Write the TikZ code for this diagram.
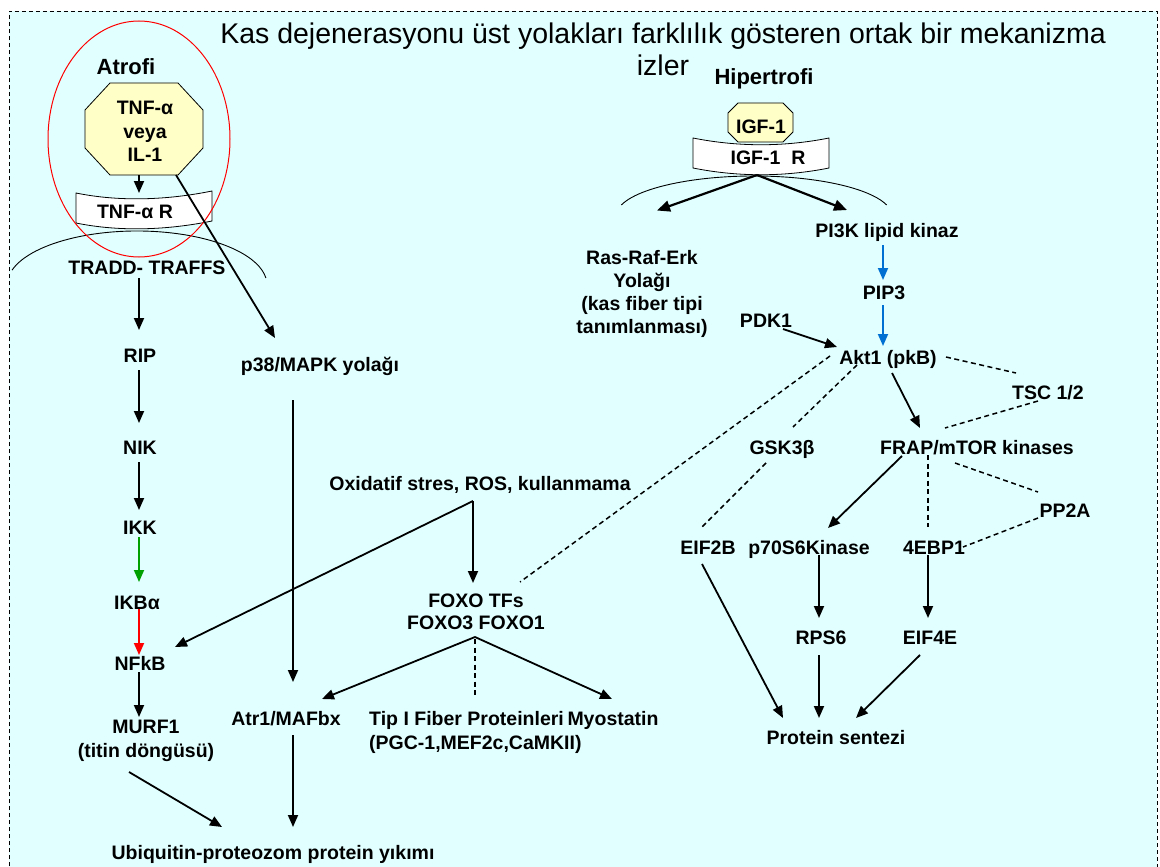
\documentclass[tikz,border=0pt]{standalone}
\usepackage{fontspec}
\setmainfont{Liberation Sans}
\usetikzlibrary{arrows.meta,calc}
\definecolor{bgcyan}{RGB}{226,255,255}
\definecolor{octyellow}{RGB}{255,255,200}
\definecolor{arrblue}{RGB}{0,112,210}
\definecolor{arrgreen}{RGB}{0,160,0}
\definecolor{arrred}{RGB}{255,0,0}
\begin{document}
\begin{tikzpicture}[x=1pt,y=-1pt,
  lbl/.style={font=\bfseries\fontsize{19.5}{23.5}\selectfont, inner sep=0pt, align=center},
  one/.style={text height=14pt, text depth=0pt},
  head/.style={font=\bfseries\fontsize{22}{26}\selectfont, inner sep=0pt, text height=15.5pt, text depth=0pt},
  ttl/.style={font=\fontsize{28.5}{32}\selectfont, inner sep=0pt, align=center},
  arr/.style={line width=1.8pt, -{Triangle[length=12pt,width=10pt]}},
  bigarr/.style={line width=2.2pt, -{Triangle[length=13pt,width=11pt]}},
  dline/.style={line width=1.5pt, dash pattern=on 5pt off 3.5pt},
  memb/.style={line width=0.9pt},
  recbox/.style={fill=white, draw=black, line width=0.8pt},
  octshape/.style={fill=octyellow, draw=black, line width=0.8pt}
]
\useasboundingbox (0,0) rectangle (1160,867);
% background and frame
\fill[bgcyan] (9,11) rectangle (1157,880);
\draw[line width=0.8pt, dash pattern=on 4pt off 3pt] (9,880) -- (9,11) -- (1157,11) -- (1157,880);

% membranes
\draw[memb] (137,285) ++(196:130 and 54) arc[start angle=196, end angle=352.5, x radius=130, y radius=54];
\draw[memb] (754,216) ++(196:138 and 40) arc[start angle=196, end angle=344, x radius=138, y radius=40];

% receptors
\draw[recbox] (76,193) .. controls (120,202) and (168,200) .. (212,191) -- (212,221) .. controls (168,230) and (120,232) .. (76,223) -- cycle;
\draw[recbox] (693,138) .. controls (738,147) and (784,147) .. (829,138) -- (829,168) .. controls (784,177) and (738,177) .. (693,168) -- cycle;

% ligands (octagons)
\draw[octshape] (110,83) -- (178,83) -- (203,110) -- (203,148) -- (178,175) -- (110,175) -- (85,148) -- (85,110) -- cycle;
\draw[octshape] (738,103) -- (783,103) -- (793,113) -- (793,132) -- (783,142) -- (738,142) -- (728,132) -- (728,113) -- cycle;

% red ellipse
\draw[red, line width=1pt] (139,139) ellipse [x radius=91, y radius=118];

% title
\node[ttl] (title) at (663,49) {Kas dejenerasyonu üst yolakları farklılık gösteren ortak bir mekanizma\\izler};

% nodes - left
\node[head] (atrofi) at (126,67) {Atrofi};
\node[lbl] (tnf) at (145,131.5) {TNF-α\\veya\\IL-1};
\node[lbl,one] (tnfr) at (135,211) {TNF-α R};
\node[lbl,one] (tradd) at (147,267) {TRADD- TRAFFS};
\node[lbl,one] (rip) at (140,355) {RIP};
\node[lbl,one] (nik) at (140,447) {NIK};
\node[lbl,one] (ikk) at (140,527) {IKK};
\node[lbl,one] (ikba) at (137,602) {IKBα};
\node[lbl,one] (nfkb) at (140,663) {NFkB};
\node[lbl,font=\bfseries\fontsize{19.5}{24}\selectfont] (murf) at (146,741) {MURF1\\(titin döngüsü)};
\node[lbl,one] (p38) at (320,364) {p38/MAPK yolağı};
\node[lbl,one] (atr) at (286,718) {Atr1/MAFbx};
\node[lbl,one] (ubi) at (273,852) {Ubiquitin-proteozom protein yıkımı};
\node[lbl,one] (oxi) at (480,483) {Oxidatif stres, ROS, kullanmama};
\node[lbl,font=\bfseries\fontsize{19.5}{22}\selectfont] (foxo) at (476,612) {FOXO TFs\\FOXO3 FOXO1};
\node[lbl,align=left,anchor=west,font=\bfseries\fontsize{19.5}{24}\selectfont] (tip) at (369,732) {Tip I Fiber Proteinleri\\(PGC-1,MEF2c,CaMKII)};
\node[lbl,one] (myo) at (613,718) {Myostatin};

% nodes - right
\node[head] (hiper) at (764,77) {Hipertrofi};
\node[lbl,one] (igf) at (761,126) {IGF-1};
\node[lbl,one] (igfr) at (768,157) {IGF-1~~R};
\node[lbl,font=\bfseries\fontsize{19.5}{23}\selectfont] (ras) at (642,293.5) {Ras-Raf-Erk\\Yolağı\\(kas fiber tipi\\tanımlanması)};
\node[lbl,one] (pi3k) at (887,230) {PI3K lipid kinaz};
\node[lbl,one] (pip3) at (884,292) {PIP3};
\node[lbl,one] (pdk1) at (766,320) {PDK1};
\node[lbl,one] (akt) at (888,357) {Akt1 (pkB)};
\node[lbl,one] (tsc) at (1048,392) {TSC 1/2};
\node[lbl,one] (frap) at (977,447) {FRAP/mTOR kinases};
\node[lbl,one] (gsk) at (782,447) {GSK3β};
\node[lbl,one] (eif2b) at (708,547) {EIF2B};
\node[lbl,one] (p70) at (809,547) {p70S6Kinase};
\node[lbl,one] (ebp) at (934,547) {4EBP1};
\node[lbl,one] (pp2a) at (1065,510) {PP2A};
\node[lbl,one] (rps6) at (821,637) {RPS6};
\node[lbl,one] (eif4e) at (930,637) {EIF4E};
\node[lbl,one] (prot) at (836,737) {Protein sentezi};

% connectors - left
\draw[arr] ($(tnf)+(-6,43.5)$) -- ($(tnfr)+(4,-18)$);
\draw[arr] ($(tradd)+(-8,11)$) -- ($(rip)+(-1,-25)$);
\draw[arr] ($(rip)+(-1,15)$) -- ($(nik)+(-1,-24)$);
\draw[arr] ($(nik)+(-1,15)$) -- ($(ikk)+(-1,-17)$);
\draw[arr, arrgreen] ($(ikk)+(-1,10)$) -- ($(ikba)+(2,-20)$);
\draw[arr, arrred] ($(ikba)+(2,7)$) -- ($(nfkb)+(-1,-8)$);
\draw[arr] ($(nfkb)+(-1,9)$) -- ($(murf)+(-7,-24)$);
\draw[arr] ($(murf)+(-17,31)$) -- ($(ubi)+(-51,-25)$);
\draw[arr] ($(p38)+(-27,36)$) -- ($(atr)+(7,-36)$);
\draw[arr] ($(atr)+(7,17)$) -- ($(ubi)+(20,-25)$);
\draw[arr] ($(oxi)+(-7,18)$) -- ($(nfkb)+(35,-16)$);
\draw[arr] ($(oxi)+(-7,18)$) -- ($(foxo)+(-3,-29)$);
\draw[arr] ($(foxo)+(-1,25)$) -- ($(atr)+(36,-19)$);
\draw[arr] ($(foxo)+(-1,25)$) -- ($(myo)+(-1,-19)$);
\draw[dline] ($(foxo)+(-1,27)$) -- ($(tip.west)+(106,-34)$);
\draw[dline] ($(akt)+(-58,-1)$) -- ($(foxo)+(44,-30)$);

% connectors - right
\draw[bigarr] ($(igfr)+(-11,18)$) -- ($(ras)+(15,-83)$);
\draw[bigarr] ($(igfr)+(-11,18)$) -- ($(pi3k)+(-40,-20)$);
\draw[arr, arrblue] ($(pi3k)+(-4,15)$) -- ($(pip3)+(-1,-12)$);
\draw[arr, arrblue] ($(pip3)+(-1,13)$) -- ($(akt)+(-5,-11)$);
\draw[arr] ($(pdk1)+(17,9)$) -- ($(akt)+(-51,-10)$);
\draw[dline] ($(akt)+(58,0)$) -- ($(tsc)+(-32,-19)$);
\draw[dline] ($(tsc)+(-10,9)$) -- ($(frap)+(-32,-19)$);
\draw[arr] ($(akt)+(4,16)$) -- ($(frap)+(-57,-19)$);
\draw[dline] ($(akt)+(-31,8)$) -- ($(gsk)+(11,-20)$);
\draw[dline] ($(gsk)+(-16,16)$) -- ($(eif2b)+(-6,-20)$);
\draw[arr] ($(frap)+(-75,9)$) -- ($(p70)+(19,-19)$);
\draw[dline] ($(frap)+(-49,8)$) -- ($(ebp)+(-6,-20)$);
\draw[dline] ($(frap)+(-22,16)$) -- ($(pp2a)+(-27,-18)$);
\draw[dline] ($(pp2a)+(-27,8)$) -- ($(ebp)+(29,0)$);
\draw[arr] ($(p70)+(10,8)$) -- ($(rps6)+(-2,-19)$);
\draw[arr] ($(ebp)+(-6,8)$) -- ($(eif4e)+(-2,-19)$);
\draw[arr] ($(eif2b)+(-6,17)$) -- ($(prot)+(-53,-19)$);
\draw[arr] ($(rps6)+(-2,18)$) -- ($(prot)+(-17,-19)$);
\draw[arr] ($(eif4e)+(-10,18)$) -- ($(prot)+(20,-19)$);

% TNF to p38 (drawn over receptor and ellipse)
\draw[arr] ($(tnf)+(31,43.5)$) -- ($(p38)+(-45,-26)$);
\end{tikzpicture}
\end{document}
